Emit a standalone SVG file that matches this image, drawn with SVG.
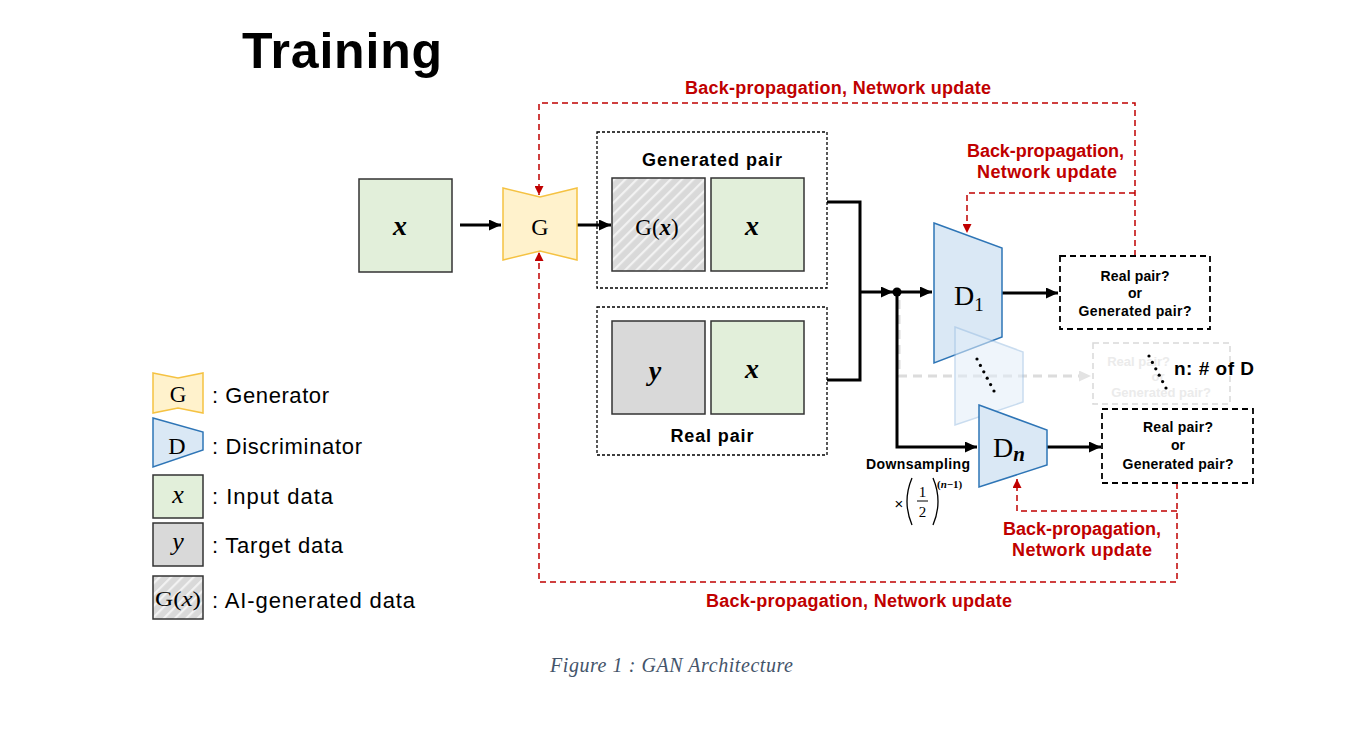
<svg xmlns="http://www.w3.org/2000/svg" width="1357" height="732" viewBox="0 0 1357 732">
<style>
.lbl{font-family:"Liberation Sans",Arial,sans-serif;font-weight:bold;fill:#000}
.red{font-family:"Liberation Sans",Arial,sans-serif;font-weight:bold;fill:#c00000;font-size:18px}
.leg{font-family:"Liberation Sans",Arial,sans-serif;font-size:22px;fill:#000}
.m{font-family:"Liberation Serif","DejaVu Serif",serif;fill:#000}
.bi{font-weight:bold;font-style:italic}
.it{font-style:italic}
.box{stroke:#333;stroke-width:1.5}
.green{fill:#e2efda}
.gray{fill:#d9d9d9}
.grp{fill:none;stroke:#000;stroke-width:1.3;stroke-dasharray:3 2}
.ans{fill:#fff;stroke:#000;stroke-width:1.8;stroke-dasharray:6 4}
.conn{fill:none;stroke:#000;stroke-width:3}
.back{fill:none;stroke:#c00000;stroke-width:1.5;stroke-dasharray:6 4}
.gen{fill:#fff2cc;stroke:#f5c242;stroke-width:1.5}
.disc{fill:#dae8f5;stroke:#2e75b6;stroke-width:1.5}
.faint{font-family:"Liberation Sans",Arial,sans-serif;font-weight:bold;fill:#ebebeb;font-size:13px}
</style>
<defs>
<pattern id="hatch" patternUnits="userSpaceOnUse" width="8" height="8" patternTransform="rotate(45)">
<rect width="8" height="8" fill="#d9d9d9"/>
<rect x="0" y="0" width="2.2" height="8" fill="#f2f2f2"/>
</pattern>
<marker id="ab" markerUnits="userSpaceOnUse" markerWidth="12" markerHeight="11" refX="12" refY="5.5" orient="auto"><path d="M0,0 L12,5.5 L0,11 z" fill="#000"/></marker>
<marker id="ag" markerUnits="userSpaceOnUse" markerWidth="12" markerHeight="11" refX="12" refY="5.5" orient="auto"><path d="M0,0 L12,5.5 L0,11 z" fill="#e3e3e3"/></marker>
<marker id="ar" markerUnits="userSpaceOnUse" markerWidth="9" markerHeight="9" refX="9" refY="4.5" orient="auto"><path d="M0,0 L9,4.5 L0,9 z" fill="#c00000"/></marker>
</defs>
<rect width="1357" height="732" fill="#fff"/>

<text x="242" y="68" class="lbl" font-size="50" textLength="200">Training</text>

<g id="connectors">
<path class="conn" d="M460,225 H501" marker-end="url(#ab)"/>
<path class="conn" d="M577,225 H611" marker-end="url(#ab)"/>
<path class="conn" d="M827,202 H860 V380 H827"/>
<path class="conn" d="M860,292 H893" marker-end="url(#ab)"/>
<path fill="none" stroke="#dcdcdc" stroke-width="3" stroke-dasharray="9 6" d="M899,300 V376 H1091" marker-end="url(#ag)"/>
<path class="conn" d="M897,292 H932" marker-end="url(#ab)"/>
<path class="conn" d="M897,292 V447 H977" marker-end="url(#ab)"/>
<circle cx="897" cy="292" r="4.5" fill="#000"/>
<path class="conn" d="M1002,293 H1058" marker-end="url(#ab)"/>
<path class="conn" d="M1047,447 H1101" marker-end="url(#ab)"/>
<path class="back" d="M1135,256 V103 H539 V195" marker-end="url(#ar)"/>
<path class="back" d="M1135,193 H967 V233" marker-end="url(#ar)"/>
<path class="back" d="M1177,483 V582 H539 V252" marker-end="url(#ar)"/>
<path class="back" d="M1177,511 H1017 V479" marker-end="url(#ar)"/>
</g>

<g id="labels-back">
<text x="685" y="94" class="red" textLength="306">Back-propagation, Network update</text>
<text x="967" y="157" class="red" textLength="157">Back-propagation,</text>
<text x="977" y="178" class="red" textLength="140">Network update</text>
<text x="1003" y="535" class="red" textLength="158">Back-propagation,</text>
<text x="1012" y="556" class="red" textLength="140">Network update</text>
<text x="706" y="607" class="red" textLength="306">Back-propagation, Network update</text>
</g>

<g id="input-x">
<rect x="359" y="179" width="93" height="93" class="box green"/>
<text x="400" y="235" class="m bi" font-size="28" text-anchor="middle">x</text>
</g>

<g id="generator">
<path class="gen" d="M503,188 L540,197 L577,188 L577,260 L540,251 L503,260 Z"/>
<text x="540" y="235" class="m" font-size="24" text-anchor="middle">G</text>
</g>

<g id="generated-pair">
<rect x="597" y="132" width="230" height="156" class="grp"/>
<text x="712" y="166" class="lbl" font-size="18" text-anchor="middle" textLength="140">Generated pair</text>
<rect x="612" y="178" width="93" height="93" class="box" fill="url(#hatch)"/>
<text x="657" y="235" class="m" font-size="23" text-anchor="middle">G(<tspan class="bi">x</tspan>)</text>
<rect x="711" y="178" width="93" height="93" class="box green"/>
<text x="752" y="235" class="m bi" font-size="28" text-anchor="middle">x</text>
</g>

<g id="real-pair">
<rect x="597" y="307" width="230" height="148" class="grp"/>
<rect x="612" y="321" width="93" height="93" class="box gray"/>
<text x="655" y="380" class="m bi" font-size="28" text-anchor="middle">y</text>
<rect x="711" y="321" width="93" height="93" class="box green"/>
<text x="752" y="378" class="m bi" font-size="28" text-anchor="middle">x</text>
<text x="712" y="442" class="lbl" font-size="18" text-anchor="middle" textLength="83">Real pair</text>
</g>

<g id="d1">
<path class="disc" d="M934,223 L1002,248 L1002,337 L934,363 Z"/>
<text x="954" y="305" class="m" font-size="28">D<tspan font-size="19" dy="6">1</tspan></text>
</g>

<g id="d-mid" opacity="0.55">
<path fill="#e3eef9" stroke="#9dc0e3" stroke-width="1.5" d="M955,327 L1023,352 L1023,402 L955,425 Z"/>
</g>
<g id="dots-mid" fill="#000">
<circle cx="977" cy="359" r="1.6"/><circle cx="980.4" cy="365.4" r="1.6"/><circle cx="983.8" cy="371.8" r="1.6"/><circle cx="987.2" cy="378.2" r="1.6"/><circle cx="990.6" cy="384.6" r="1.6"/><circle cx="994" cy="391" r="1.6"/>
</g>

<g id="answer-mid">
<rect x="1093" y="343" width="137" height="61" fill="none" stroke="#d9d9d9" stroke-width="1.5" stroke-dasharray="6 4"/>
<text x="1170" y="366" class="faint" text-anchor="end">Real pair?</text>
<text x="1158" y="381" class="faint" text-anchor="middle">or</text>
<text x="1161" y="397" class="faint" text-anchor="middle">Generated pair?</text>
<g fill="#000">
<circle cx="1149" cy="356" r="1.6"/><circle cx="1152.4" cy="362.4" r="1.6"/><circle cx="1155.8" cy="368.8" r="1.6"/><circle cx="1159.2" cy="375.2" r="1.6"/><circle cx="1162.6" cy="381.6" r="1.6"/><circle cx="1166" cy="388" r="1.6"/>
</g>
<text x="1174" y="375" class="lbl" font-size="19" textLength="80">n: # of D</text>
</g>

<g id="dn">
<path class="disc" d="M979,405 L1047,430 L1047,465 L979,487 Z"/>
<text x="993" y="457" class="m" font-size="28">D<tspan class="bi" font-size="21" dy="4">n</tspan></text>
</g>

<g id="answer-1">
<rect x="1060" y="256" width="150" height="73" class="ans"/>
<text x="1135" y="281" class="lbl" font-size="14" text-anchor="middle" textLength="69">Real pair?</text>
<text x="1135" y="298" class="lbl" font-size="14" text-anchor="middle">or</text>
<text x="1135" y="316" class="lbl" font-size="14" text-anchor="middle" textLength="113">Generated pair?</text>
</g>
<g id="answer-n">
<rect x="1102" y="409" width="151" height="74" class="ans"/>
<text x="1178" y="432" class="lbl" font-size="14" text-anchor="middle" textLength="70">Real pair?</text>
<text x="1178" y="450" class="lbl" font-size="14" text-anchor="middle">or</text>
<text x="1178" y="469" class="lbl" font-size="14" text-anchor="middle" textLength="111">Generated pair?</text>
</g>

<g id="downsampling">
<text x="918" y="469" class="lbl" font-size="14" text-anchor="middle" textLength="104">Downsampling</text>
<text x="899" y="509" font-family="Liberation Sans,sans-serif" font-size="15" fill="#000" text-anchor="middle">×</text>
<path d="M912,478 Q902,501.5 912,525" fill="none" stroke="#000" stroke-width="1.3"/>
<path d="M933,478 Q943,501.5 933,525" fill="none" stroke="#000" stroke-width="1.3"/>
<text x="922.5" y="497" class="m" font-size="15" text-anchor="middle">1</text>
<line x1="917" y1="501" x2="928" y2="501" stroke="#000" stroke-width="1"/>
<text x="922.5" y="517" class="m" font-size="15" text-anchor="middle">2</text>
<text x="937" y="488" class="m" font-size="11" font-weight="bold">(<tspan font-style="italic">n</tspan>−1)</text>
</g>

<g id="legend-g">
<path class="gen" d="M153,373 L178,378 L203,373 L203,413 L178,408 L153,413 Z"/>
<text x="178" y="402" class="m" font-size="23" text-anchor="middle">G</text>
<text x="212" y="403" class="leg" textLength="117">: Generator</text>
</g>
<g id="legend-d">
<path class="disc" d="M153,418 L203,432 L203,450 L153,467 Z"/>
<text x="177" y="454" class="m" font-size="24" text-anchor="middle">D</text>
<text x="212" y="454" class="leg" textLength="150">: Discriminator</text>
</g>
<g id="legend-x">
<rect x="153" y="475" width="50" height="43" class="box green"/>
<text x="178" y="503" class="m it" font-size="26" text-anchor="middle">x</text>
<text x="212" y="504" class="leg" textLength="121">: Input data</text>
</g>
<g id="legend-y">
<rect x="153" y="523" width="50" height="43" class="box gray"/>
<text x="178" y="550" class="m it" font-size="26" text-anchor="middle">y</text>
<text x="212" y="553" class="leg" textLength="131">: Target data</text>
</g>
<g id="legend-gx">
<rect x="153" y="576" width="50" height="43" class="box" fill="url(#hatch)"/>
<text x="178" y="606" class="m" font-size="22" text-anchor="middle" textLength="46" lengthAdjust="spacingAndGlyphs">G(<tspan font-style="italic">x</tspan>)</text>
<text x="212" y="608" class="leg" textLength="203">: AI-generated data</text>
</g>

<text x="550" y="672" font-family="Liberation Serif,serif" font-style="italic" font-size="20" fill="#44546a" textLength="243">Figure 1 : GAN Architecture</text>
</svg>
